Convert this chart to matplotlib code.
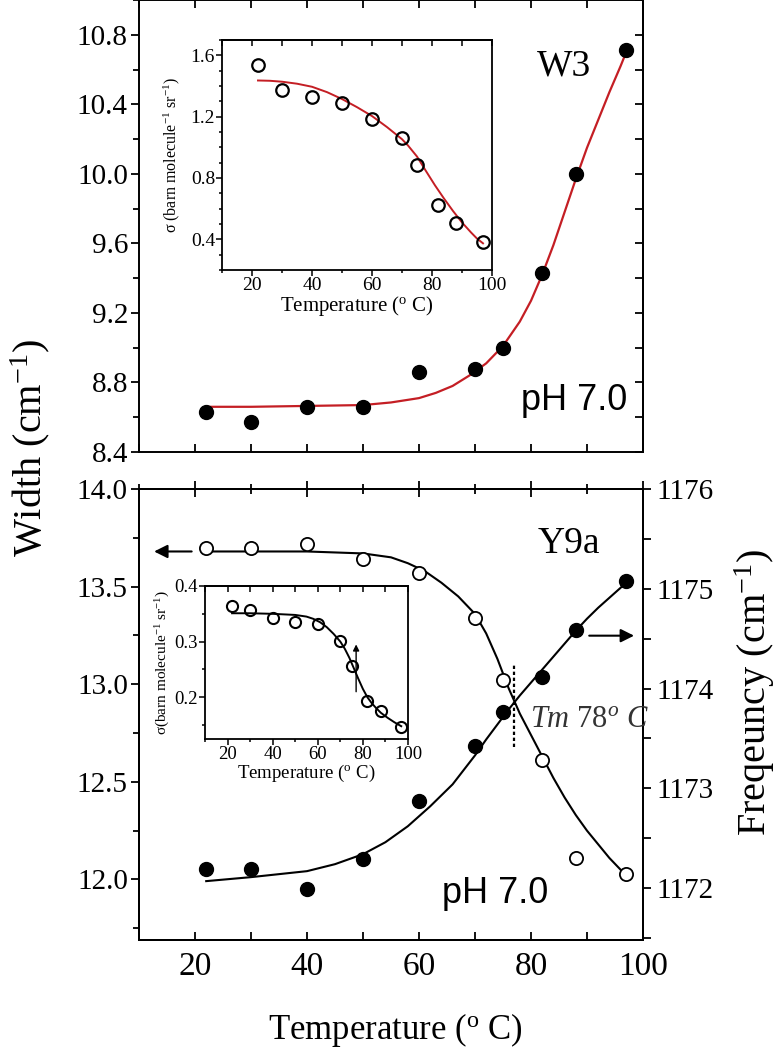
import matplotlib
matplotlib.use('Agg')
import matplotlib.pyplot as plt
from matplotlib.ticker import MultipleLocator, FormatStrFormatter

plt.rcParams['font.family'] = 'Liberation Serif'
plt.rcParams['mathtext.fontset'] = 'custom'
plt.rcParams['mathtext.rm'] = 'Liberation Serif'
plt.rcParams['mathtext.it'] = 'Liberation Serif:italic'

# measured temperatures (deg C)
temp = [22, 30, 40, 50, 60, 70, 75, 82, 88, 97]

# W3 band: width (cm-1) and fitted curve
w3_width = [8.63, 8.57, 8.66, 8.66, 8.86, 8.88, 9.00, 9.43, 10.00, 10.71]
w3_fit_t = [22, 30, 40, 50, 55, 60, 63, 66, 69, 72, 75, 78, 80, 82, 84, 86, 88, 90,
            92, 94, 96, 97]
w3_fit = [8.66, 8.66, 8.665, 8.67, 8.685, 8.71, 8.74, 8.78, 8.84, 8.91, 9.01, 9.15, 9.27,
          9.42, 9.59, 9.78, 9.97, 10.15, 10.31, 10.47, 10.62, 10.70]

# W3 cross section (inset)
w3_sigma = [1.54, 1.377, 1.33, 1.29, 1.185, 1.064, 0.882, 0.625, 0.508, 0.383]
w3_sigma_fit_t = [22, 26, 30, 35, 40, 45, 50, 55, 60, 65, 70, 72, 75, 78, 81, 84, 87,
                  90, 93, 95, 97]
w3_sigma_fit = [1.436, 1.434, 1.428, 1.415, 1.395, 1.36, 1.315, 1.262, 1.204, 1.132,
                1.053, 1.012, 0.94, 0.845, 0.752, 0.666, 0.585, 0.51, 0.445, 0.405, 0.374]

# Y9a band: width (cm-1, left) and frequency (cm-1, right)
y9a_width = [13.70, 13.70, 13.72, 13.64, 13.57, 13.34, 13.02, 12.61, 12.11, 12.03]
y9a_width_fit_t = [22, 40, 50, 55, 58, 61, 64, 67, 70, 72, 74, 76, 78, 80, 82, 84, 86,
                   88, 90, 92, 94, 96, 97]
y9a_width_fit = [13.68, 13.68, 13.67, 13.65, 13.62, 13.58, 13.52, 13.45, 13.36, 13.26,
                 13.13, 12.98, 12.85, 12.74, 12.63, 12.52, 12.42, 12.33, 12.25, 12.18,
                 12.11, 12.05, 12.01]
y9a_freq = [1172.19, 1172.19, 1171.99, 1172.29, 1172.87, 1173.42, 1173.77, 1174.12,
            1174.59, 1175.08]
y9a_freq_fit_t = [22, 30, 40, 45, 50, 54, 58, 62, 66, 70, 72, 74, 76, 78, 80, 82, 84,
                  86, 88, 90, 92, 94, 96, 97]
y9a_freq_fit = [1172.07, 1172.11, 1172.17, 1172.24, 1172.34, 1172.46, 1172.62, 1172.82,
                1173.04, 1173.33, 1173.49, 1173.64, 1173.79, 1173.93, 1174.06, 1174.19,
                1174.32, 1174.45, 1174.58, 1174.70, 1174.81, 1174.91, 1175.01, 1175.06]

# Y9a cross section (inset)
y9a_sigma = [0.364, 0.357, 0.342, 0.335, 0.332, 0.302, 0.256, 0.193, 0.175, 0.146]
y9a_sigma_fit_t = [22, 30, 40, 50, 55, 58, 61, 64, 67, 70, 72, 74, 76, 78, 80, 82, 84,
                   86, 88, 91, 94, 97]
y9a_sigma_fit = [0.351, 0.351, 0.350, 0.348, 0.345, 0.341, 0.335, 0.326, 0.314, 0.300,
                 0.287, 0.271, 0.252, 0.233, 0.215, 0.200, 0.189, 0.180, 0.172, 0.163,
                 0.155, 0.148]
tm_x = 77

RED = '#c41e24'
W, H = 778, 1050


def box(x0, y0, x1, y1):
    return [x0 / W, 1 - y1 / H, (x1 - x0) / W, (y1 - y0) / H]


def fpos(x, y):
    return x / W, 1 - y / H


fig = plt.figure(figsize=(7.78, 10.5), dpi=100)

# ---------------- top panel (W3) ----------------
ax1 = fig.add_axes(box(139, 0, 643, 452))
ax1.plot(w3_fit_t, w3_fit, color=RED, lw=1.6, zorder=2)
ax1.plot(temp, w3_width, 'o', color='k', ms=10, zorder=3)
ax1.set_xlim(10, 100)
ax1.set_ylim(8.4, 11.0)
ax1.xaxis.set_major_locator(MultipleLocator(20))
ax1.xaxis.set_minor_locator(MultipleLocator(10))
ax1.yaxis.set_major_locator(MultipleLocator(0.4))
ax1.yaxis.set_minor_locator(MultipleLocator(0.2))
ax1.yaxis.set_major_formatter(FormatStrFormatter('%.1f'))
ax1.tick_params(axis='x', which='both', direction='in', top=True, bottom=True,
                labelbottom=False, length=6, width=1.3)
ax1.tick_params(axis='y', which='major', direction='out', length=6, width=1.3,
                labelsize=21, pad=2)
ax1.tick_params(axis='y', which='minor', direction='out', length=4, width=1.3)
r1 = ax1.secondary_yaxis('right')
r1.yaxis.set_major_locator(MultipleLocator(0.4))
r1.yaxis.set_minor_locator(MultipleLocator(0.2))
r1.tick_params(axis='y', which='both', direction='in', labelright=False, width=1.3,
               length=6)
for ax in (ax1, r1):
    for s in ax.spines.values():
        s.set_linewidth(1.4)

fig.text(*fpos(537, 75), 'W3', fontsize=27, va='baseline', ha='left')
fig.text(*fpos(627, 410), 'pH 7.0', fontsize=26, va='baseline', ha='right',
         family='Liberation Sans')

# inset of top panel
in1 = fig.add_axes(box(222, 40, 492, 270))
in1.plot(w3_sigma_fit_t, w3_sigma_fit, color=RED, lw=1.4)
in1.plot(temp, w3_sigma, 'o', mfc='none', mec='k', mew=1.6, ms=9)
in1.set_xlim(10, 100)
in1.set_ylim(0.2, 1.7)
in1.xaxis.set_major_locator(MultipleLocator(20))
in1.xaxis.set_minor_locator(MultipleLocator(10))
in1.yaxis.set_major_locator(MultipleLocator(0.4))
in1.yaxis.set_minor_locator(MultipleLocator(0.1))
in1.yaxis.set_major_formatter(FormatStrFormatter('%.1f'))
in1.tick_params(which='both', direction='out', labelsize=14, width=1.1, pad=1)
in1.tick_params(which='major', length=4)
in1.tick_params(which='minor', length=2.5)
t1 = in1.secondary_xaxis('top')
t1.xaxis.set_major_locator(MultipleLocator(20))
t1.xaxis.set_minor_locator(MultipleLocator(10))
t1.tick_params(which='both', direction='in', labeltop=False, length=4, width=1.1)
in1.set_xlabel('Temperature ($^{\\mathregular{o}}$ C)', fontsize=15, labelpad=0)
in1.set_ylabel('σ (barn molecule$^{\\mathregular{-1}}$ sr$^{\\mathregular{-1}}$)',
               fontsize=11.5, labelpad=6)
for ax in (in1, t1):
    for s in ax.spines.values():
        s.set_linewidth(1.3)

# ---------------- bottom panel (Y9a) ----------------
ax2 = fig.add_axes(box(139, 489, 643, 940))
ax2.plot(y9a_width_fit_t, y9a_width_fit, color='k', lw=1.5)
ax2.plot(temp, y9a_width, 'o', mfc='white', mec='k', mew=1.3, ms=9.5)
ax2.set_xlim(10, 100)
ax2.set_ylim(11.69, 14.0)
ax2.xaxis.set_major_locator(MultipleLocator(20))
ax2.xaxis.set_minor_locator(MultipleLocator(10))
ax2.yaxis.set_major_locator(MultipleLocator(0.5))
ax2.yaxis.set_minor_locator(MultipleLocator(0.25))
ax2.yaxis.set_major_formatter(FormatStrFormatter('%.1f'))
ax2.tick_params(axis='x', which='both', direction='in', top=False, length=6, width=1.3,
                labelsize=24, pad=8)
ax2.tick_params(axis='y', which='major', direction='out', length=6, width=1.3,
                labelsize=21, pad=2)
ax2.tick_params(axis='y', which='minor', direction='out', length=4, width=1.3)
t2 = ax2.secondary_xaxis('top')
t2.xaxis.set_major_locator(MultipleLocator(20))
t2.xaxis.set_minor_locator(MultipleLocator(10))
t2.tick_params(which='both', direction='inout', labeltop=False, width=1.3)
t2.tick_params(which='major', length=11)
t2.tick_params(which='minor', length=7)

ax2r = ax2.twinx()
ax2r.plot(y9a_freq_fit_t, y9a_freq_fit, color='k', lw=1.5)
ax2r.plot(temp, y9a_freq, 'o', color='k', ms=10)
ax2r.set_ylim(1171.48, 1176)
ax2r.yaxis.set_major_locator(MultipleLocator(1))
ax2r.yaxis.set_minor_locator(MultipleLocator(0.5))
ax2r.tick_params(axis='y', which='major', direction='out', length=6, width=1.3,
                 labelsize=21, pad=4)
ax2r.tick_params(axis='y', which='minor', direction='out', length=6, width=1.3)
for ax in (ax2, t2, ax2r):
    for s in ax.spines.values():
        s.set_linewidth(1.4)

# arrows pointing to the axes and the Tm marker
ax2.annotate('', xy=(12.2, 13.68), xytext=(19.9, 13.68),
             arrowprops=dict(arrowstyle='-|>', color='k', lw=1.5, mutation_scale=20))
ax2r.annotate('', xy=(98.9, 1174.53), xytext=(89.9, 1174.53),
              arrowprops=dict(arrowstyle='-|>', color='k', lw=1.5, mutation_scale=20))
ax2.vlines(tm_x, 12.68, 13.11, colors='k', linestyles=(0, (1.5, 1.2)), lw=1.6)

fig.text(*fpos(538, 553), 'Y9a', fontsize=27, va='baseline', ha='left')
fig.text(*fpos(530, 727), '$\\mathit{Tm}$ $\\mathit{78}^{\\mathit{o}}$ $\\mathit{C}$',
         fontsize=22, va='baseline', ha='left', color='#333333')
fig.text(*fpos(548, 903), 'pH 7.0', fontsize=26, va='baseline', ha='right',
         family='Liberation Sans')

# inset of bottom panel
in2 = fig.add_axes(box(205, 586, 408, 739))
in2.plot(y9a_sigma_fit_t, y9a_sigma_fit, color='k', lw=1.4)
in2.plot(temp, y9a_sigma, 'o', mfc='none', mec='k', mew=1.5, ms=8)
in2.set_xlim(10, 100)
in2.set_ylim(0.125, 0.4)
in2.xaxis.set_major_locator(MultipleLocator(20))
in2.xaxis.set_minor_locator(MultipleLocator(10))
in2.yaxis.set_major_locator(MultipleLocator(0.1))
in2.yaxis.set_minor_locator(MultipleLocator(0.05))
in2.yaxis.set_major_formatter(FormatStrFormatter('%.1f'))
in2.tick_params(which='both', direction='out', labelsize=13.5, width=1.1, pad=1)
in2.tick_params(which='major', length=4)
in2.tick_params(which='minor', length=2.5)
t3 = in2.secondary_xaxis('top')
t3.xaxis.set_major_locator(MultipleLocator(20))
t3.xaxis.set_minor_locator(MultipleLocator(10))
t3.tick_params(which='both', direction='in', labeltop=False, length=4, width=1.1)
in2.annotate('', xy=(tm_x, 0.30), xytext=(tm_x, 0.205),
             arrowprops=dict(arrowstyle='-|>', color='k', lw=1.0, mutation_scale=9))
in2.set_xlabel('Temperature ($^{\\mathregular{o}}$ C)', fontsize=13.5, labelpad=0)
in2.set_ylabel('σ(barn molecule$^{\\mathregular{-1}}$ sr$^{\\mathregular{-1}}$)',
               fontsize=11, labelpad=2)
for ax in (in2, t3):
    for s in ax.spines.values():
        s.set_linewidth(1.3)

# shared axis titles
fig.text(*fpos(30, 448), 'Width (cm$^{\\mathregular{-1}}$)', fontsize=29, rotation=90,
         ha='center', va='center')
fig.text(*fpos(755, 692), 'Freqeuncy (cm$^{\\mathregular{-1}}$)', fontsize=29, rotation=90,
         ha='center', va='center')
fig.text(*fpos(395, 1039), 'Temperature ($^{\\mathregular{o}}$ C)', fontsize=25,
         ha='center', va='baseline')

fig.savefig('out.png', dpi=100)
